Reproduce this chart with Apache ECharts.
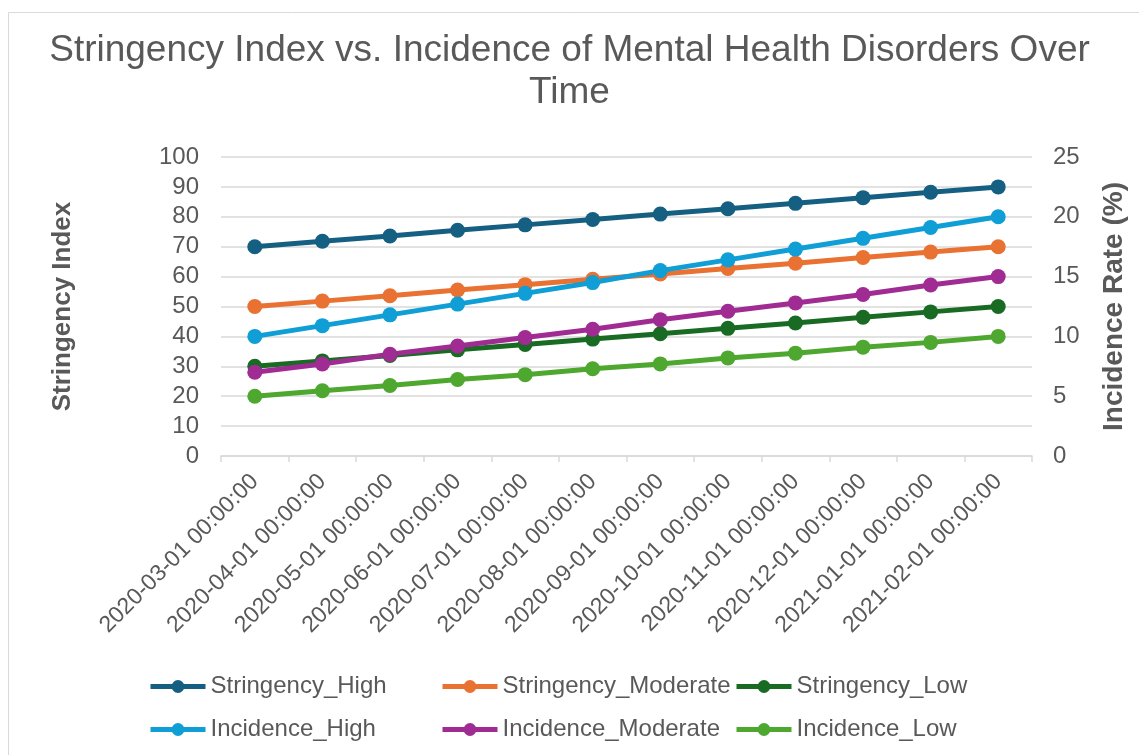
<!DOCTYPE html>
<html>
<head>
<meta charset="utf-8">
<script src="https://cdn.jsdelivr.net/npm/echarts@6/dist/echarts.min.js"></script>
<style>
  html, body { margin: 0; padding: 0; background: #fff; }
  #main { width: 1139px; height: 755px; }
</style>
</head>
<body>
<div id="main"></div>
<script>
// 数据
var months = [
  "2020-03-01 00:00:00", "2020-04-01 00:00:00", "2020-05-01 00:00:00",
  "2020-06-01 00:00:00", "2020-07-01 00:00:00", "2020-08-01 00:00:00",
  "2020-09-01 00:00:00", "2020-10-01 00:00:00", "2020-11-01 00:00:00",
  "2020-12-01 00:00:00", "2021-01-01 00:00:00", "2021-02-01 00:00:00"
];
var stringencyHigh = [70, 71.8, 73.6, 75.5, 77.3, 79.1, 80.9, 82.7, 84.5, 86.4, 88.2, 90];
var stringencyModerate = [50, 51.8, 53.6, 55.5, 57.3, 59.1, 60.9, 62.7, 64.5, 66.4, 68.2, 70];
var stringencyLow = [30, 31.8, 33.6, 35.5, 37.3, 39.1, 40.9, 42.7, 44.5, 46.4, 48.2, 50];
var incidenceHigh = [10, 10.9, 11.8, 12.7, 13.6, 14.5, 15.5, 16.4, 17.3, 18.2, 19.1, 20];
var incidenceModerate = [7, 7.7, 8.5, 9.2, 9.9, 10.6, 11.4, 12.1, 12.8, 13.5, 14.3, 15];
var incidenceLow = [5, 5.45, 5.9, 6.4, 6.8, 7.3, 7.7, 8.2, 8.6, 9.1, 9.5, 10];

var seriesNames = [
  "Stringency_High", "Stringency_Moderate", "Stringency_Low",
  "Incidence_High", "Incidence_Moderate", "Incidence_Low"
];
var seriesData = [stringencyHigh, stringencyModerate, stringencyLow,
  incidenceHigh, incidenceModerate, incidenceLow];
var colors = ["#156082", "#E97132", "#196B24", "#0F9ED5", "#A02B93", "#4EA72E"];

var textColor = "#595959";
var font = "Liberation Sans, Arial, sans-serif";

var chart = echarts.init(document.getElementById("main"));

var series = [];
for (var i = 0; i < seriesNames.length; i++) {
  series.push({
    name: seriesNames[i],
    type: "line",
    yAxisIndex: i < 3 ? 0 : 1,
    data: seriesData[i],
    symbol: "circle",
    symbolSize: 15,
    lineStyle: { width: 5, color: colors[i] },
    itemStyle: { color: colors[i] },
    emphasis: { disabled: true }
  });
}

// 图例，三列
function legendCol(names, left) {
  return {
    data: names,
    orient: "vertical",
    left: left,
    top: 669,
    itemWidth: 55,
    itemHeight: 16,
    itemGap: 18,
    lineStyle: { width: 5 },
    textStyle: { color: textColor, fontSize: 24, fontFamily: font, lineHeight: 25 }
  };
}

var option = {
  animation: false,
  color: colors,
  title: {
    text: "Stringency Index vs. Incidence of Mental Health Disorders Over\nTime",
    left: "center",
    top: 25,
    textStyle: {
      color: textColor,
      fontSize: 37,
      fontWeight: "normal",
      fontFamily: font,
      lineHeight: 42
    }
  },
  graphic: [{
    type: "rect",
    shape: { x: 8.5, y: 12.5, width: 1200, height: 800 },
    style: { fill: "none", stroke: "#D9D9D9", lineWidth: 1 },
    silent: true
  }],
  legend: [
    legendCol(["Stringency_High", "Incidence_High"], 143),
    legendCol(["Stringency_Moderate", "Incidence_Moderate"], 435),
    legendCol(["Stringency_Low", "Incidence_Low"], 729)
  ],
  grid: {
    left: 221,
    right: 107,
    top: 157,
    bottom: 299,
    containLabel: false,
    outerBoundsMode: "none"
  },
  xAxis: {
    type: "category",
    data: months,
    boundaryGap: true,
    axisLine: { lineStyle: { color: "#D9D9D9", width: 1.5 } },
    axisTick: { show: true, length: 6, lineStyle: { color: "#D9D9D9", width: 1.5 } },
    axisLabel: {
      interval: 0,
      rotate: 45,
      margin: 22,
      color: textColor,
      fontSize: 23,
      fontFamily: font
    },
    splitLine: { show: false }
  },
  yAxis: [
    {
      type: "value",
      min: 0,
      max: 100,
      interval: 10,
      name: "Stringency Index",
      nameLocation: "middle",
      nameGap: 145,
      nameTextStyle: { color: textColor, fontSize: 26, fontWeight: "bold", fontFamily: font },
      axisLine: { show: false },
      axisTick: { show: false },
      axisLabel: { color: textColor, fontSize: 24, fontFamily: font, margin: 22 },
      splitLine: { lineStyle: { color: "#D9D9D9", width: 1.5 } }
    },
    {
      type: "value",
      min: 0,
      max: 25,
      interval: 5,
      name: "Incidence Rate (%)",
      nameLocation: "middle",
      nameGap: 68,
      nameTextStyle: { color: textColor, fontSize: 28, fontWeight: "bold", fontFamily: font },
      axisLine: { show: false },
      axisTick: { show: false },
      axisLabel: { color: textColor, fontSize: 24, fontFamily: font, margin: 21 },
      splitLine: { show: false }
    }
  ],
  series: series
};

chart.setOption(option);
</script>
</body>
</html>
